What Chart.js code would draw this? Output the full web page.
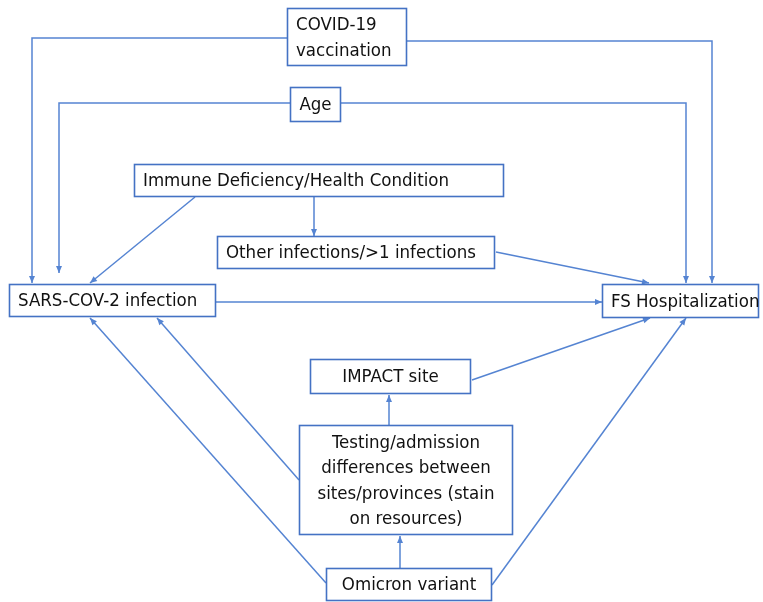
<!DOCTYPE html>
<html><head><meta charset="utf-8">
<script src="https://cdn.jsdelivr.net/npm/chart.js@4/dist/chart.umd.min.js"></script>
<style>html,body{margin:0;padding:0;background:#fff;}canvas{display:block;}</style>
</head><body>
<canvas id="c" width="763" height="602"></canvas>
<script>
// Nodes of the diagram (box bounds in diagram units) and their text
const nodeNames = ["COVID-19 vaccination","Age","Immune Deficiency/Health Condition","Other infections/>1 infections","SARS-COV-2 infection","FS Hospitalization","IMPACT site","Testing/admission differences between sites/provinces (stain on resources)","Omicron variant"];
const nodeLines = [["COVID-19","vaccination"],["Age"],["Immune Deficiency/Health Condition"],["Other infections/>1 infections"],["SARS-COV-2 infection"],["FS Hospitalization"],["IMPACT site"],["Testing/admission","differences between","sites/provinces (stain","on resources)"],["Omicron variant"]];
const nodeX0 = [287,290,134,217,9,602,310,299,326];
const nodeX1 = [407,341,504,495,216,759,471,513,492];
const nodeY0 = [8,87,164,236,284,284,359,425,568];
const nodeY1 = [66,122,197,269,317,318,394,535,601];
const nodeAlign = ["left","center","left","left","left","left","center","center","center"];
// Edges as polylines (cause -> effect), last point gets the arrowhead
const edgeFrom = ["COVID-19 vaccination","COVID-19 vaccination","Age","Age","Immune Deficiency/Health Condition","Immune Deficiency/Health Condition","Other infections/>1 infections","SARS-COV-2 infection","Testing/admission","Omicron variant","Testing/admission","Omicron variant","IMPACT site","Omicron variant"];
const edgeX = [[287,32,32],[407,712,712],[290,59,59],[341,686,686],[195,90],[314,314],[496,649],[216,602],[389,389],[400,400],[299,157],[326,90],[472,650],[492,686]];
const edgeY = [[38,38,283],[41,41,283],[103,103,273],[103,103,283],[197,283],[197,236],[252,283],[302,302],[425,395],[568,536],[480,318],[583,318],[380,318],[585,318]];

const lineColor = "#5584d2";
const boxColor = "#4472c4";
const fontFam = "'Liberation Sans Narrow','DejaVu Sans Condensed','Liberation Sans',sans-serif";

const datasets = edgeX.map((xs,i)=>({
  label: edgeFrom[i],
  data: xs.map((x,j)=>({x:x,y:edgeY[i][j]})),
  showLine:true, borderColor:lineColor, borderWidth:1.5, pointRadius:0, tension:0, fill:false, clip:false
}));

const diagramPlugin = {
  id:'diagram',
  afterDatasetsDraw(chart){
    const ctx = chart.ctx, xs = chart.scales.x, ys = chart.scales.y;
    ctx.save();
    // arrowheads
    chart.data.datasets.forEach(ds=>{
      const n = ds.data.length;
      const p1 = ds.data[n-2], p2 = ds.data[n-1];
      const ax = xs.getPixelForValue(p1.x), ay = ys.getPixelForValue(p1.y);
      const bx = xs.getPixelForValue(p2.x), by = ys.getPixelForValue(p2.y);
      const ang = Math.atan2(by-ay, bx-ax);
      const L = 7, W = 3;
      ctx.fillStyle = lineColor;
      ctx.beginPath();
      ctx.moveTo(bx,by);
      ctx.lineTo(bx - L*Math.cos(ang) + W*Math.sin(ang), by - L*Math.sin(ang) - W*Math.cos(ang));
      ctx.lineTo(bx - L*Math.cos(ang) - W*Math.sin(ang), by - L*Math.sin(ang) + W*Math.cos(ang));
      ctx.closePath(); ctx.fill();
    });
    // boxes
    nodeNames.forEach((nm,i)=>{
      const x0 = xs.getPixelForValue(nodeX0[i]), x1 = xs.getPixelForValue(nodeX1[i]);
      const y0 = ys.getPixelForValue(nodeY0[i]), y1 = ys.getPixelForValue(nodeY1[i]);
      ctx.fillStyle = "#ffffff";
      ctx.fillRect(x0,y0,x1-x0,y1-y0);
      ctx.strokeStyle = boxColor; ctx.lineWidth = 1.6;
      ctx.strokeRect(x0+0.5,y0+0.5,x1-x0-1,y1-y0-1);
      const lines = nodeLines[i];
      ctx.fillStyle = "#111111";
      ctx.font = "18.5px " + fontFam;
      ctx.textBaseline = "middle";
      const lh = lines.length>2 ? 25.5 : 26;
      const cy = (y0+y1)/2 + 1;
      lines.forEach((t,k)=>{
        const ty = cy + (k-(lines.length-1)/2)*lh;
        if(nodeAlign[i]==="left"){ ctx.textAlign="left"; ctx.fillText(t, x0+9, ty); }
        else { ctx.textAlign="center"; ctx.fillText(t, (x0+x1)/2, ty); }
      });
    });
    ctx.restore();
  }
};

new Chart(document.getElementById('c'),{
  type:'scatter',
  data:{datasets},
  options:{
    responsive:false, animation:false, devicePixelRatio:1,
    layout:{padding:0},
    plugins:{legend:{display:false},tooltip:{enabled:false}},
    scales:{
      x:{type:'linear',min:0,max:763,display:false},
      y:{type:'linear',min:0,max:602,reverse:true,display:false}
    }
  },
  plugins:[diagramPlugin]
});
</script>
</body></html>
